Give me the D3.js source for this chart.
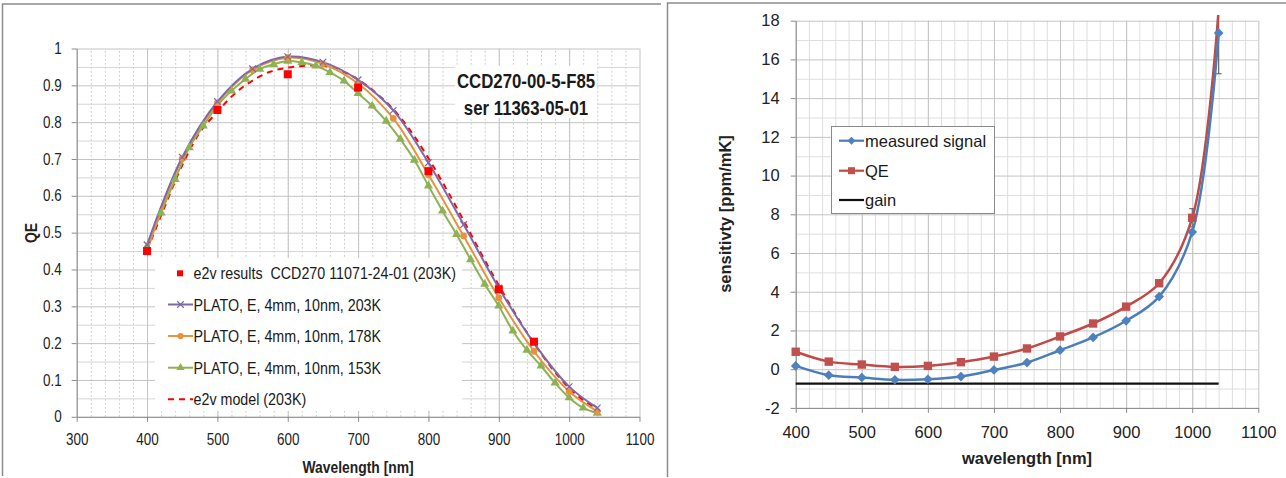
<!DOCTYPE html>
<html>
<head>
<meta charset="utf-8">
<script src="https://cdn.jsdelivr.net/npm/d3@7"></script>
<style>
  body { margin: 0; background: #fff; }
  svg { display: block; }
  svg text { font-family: "Liberation Sans", Arial, sans-serif; white-space: pre; }
</style>
</head>
<body>
<div id="chart"></div>
<script>
/**
 * DATA - left panel (QE vs wavelength)
 * */
const wl50 = [400, 450, 500, 550, 600, 650, 700, 750, 800, 850, 900, 950, 1000, 1040];
const plato203 = [0.467, 0.705, 0.856, 0.945, 0.978, 0.963, 0.915, 0.832, 0.690, 0.522, 0.350, 0.200, 0.082, 0.024];
const plato178 = [0.450, 0.701, 0.852, 0.942, 0.975, 0.958, 0.905, 0.810, 0.657, 0.491, 0.323, 0.178, 0.069, 0.015];
const wl20 = [400, 420, 440, 460, 480, 500, 520, 540, 560, 580, 600, 620, 640, 660, 680, 700, 720,
  740, 760, 780, 800, 820, 840, 860, 880, 900, 920, 940, 960, 980, 1000, 1020, 1040];
const plato153 = [0.462, 0.554, 0.645, 0.731, 0.790, 0.845, 0.885, 0.917, 0.944, 0.957, 0.966, 0.962, 0.953,
  0.935, 0.912, 0.878, 0.844, 0.803, 0.754, 0.697, 0.627, 0.559, 0.495, 0.427, 0.360, 0.301, 0.233,
  0.181, 0.138, 0.092, 0.052, 0.024, 0.010];
const wlResults = [400, 500, 600, 700, 800, 900, 950];
const e2vResults = [0.450, 0.833, 0.930, 0.894, 0.667, 0.346, 0.204];
const wlModel = [400, 425, 450, 475, 500, 525, 550, 575, 600, 625, 650, 675, 700, 725, 750, 775, 800,
  825, 850, 875, 900, 925, 950, 975, 1000, 1020, 1040];
const e2vModel = [0.452, 0.570, 0.683, 0.772, 0.828, 0.878, 0.913, 0.937, 0.948, 0.953, 0.953, 0.940,
  0.916, 0.880, 0.835, 0.775, 0.702, 0.620, 0.533, 0.443, 0.357, 0.275, 0.200, 0.133, 0.078, 0.045, 0.022];
const qeTicks = [0, 0.1, 0.2, 0.3, 0.4, 0.5, 0.6, 0.7, 0.8, 0.9, 1];
const wlTicksLeft = [300, 400, 500, 600, 700, 800, 900, 1000, 1100];
const leftLegend = ["e2v results  CCD270 11071-24-01 (203K)", "PLATO, E, 4mm, 10nm, 203K",
  "PLATO, E, 4mm, 10nm, 178K", "PLATO, E, 4mm, 10nm, 153K", "e2v model (203K)"];
const deviceLabel = ["CCD270-00-5-F85", "ser 11363-05-01"];

/**
 * DATA - right panel (sensitivity vs wavelength)
 * */
const wlSens = [400, 450, 500, 550, 600, 650, 700, 750, 800, 850, 900, 950, 1000, 1040];
const measured = [0.17, -0.31, -0.43, -0.55, -0.52, -0.38, -0.04, 0.34, 0.98, 1.64, 2.50, 3.75, 7.08, 17.36];
const qeSens = [0.90, 0.39, 0.24, 0.12, 0.17, 0.36, 0.65, 1.07, 1.69, 2.36, 3.23, 4.44, 7.82, 18.6];
const wlGain = [400, 1040];
const gain = [-0.75, -0.75];
const errWl = [1000, 1040];
const errVal = [7.82, 17.36];
const errSize = [0.47, 2.1];
const sensTicks = [-2, 0, 2, 4, 6, 8, 10, 12, 14, 16, 18];
const wlTicksRight = [400, 500, 600, 700, 800, 900, 1000, 1100];
const rightLegend = ["measured signal", "QE", "gain"];

/**
 * CONSTANTS
 * */
const width = 1286, height = 478;
const purple = "#7d68a8", orange = "#e8913f", green = "#8db254", red = "#ff0000";
const blue = "#4a7ebb", darkRed = "#be4b48";
const majorGrid = "#c4c4c4", minorGrid = "#dedede", axisCol = "#8a8a8a";
const plain = d => String(d);

const svg = d3.select("#chart").append("svg")
  .attr("width", width).attr("height", height);

// panel frames
svg.append("path")
  .attr("d", "M2.5,476 L2.5,4 L661,4")
  .attr("fill", "none").attr("stroke", "#8c8c8c").attr("stroke-width", 1.5);
svg.append("path")
  .attr("d", "M667.5,477 L667.5,3 L1286,3")
  .attr("fill", "none").attr("stroke", "#8c8c8c").attr("stroke-width", 1.5);

const pairs = (xs, ys) => xs.map((x, i) => [x, ys[i]]);

/**
 * LEFT PANEL
 * */
const L = svg.append("g");
const xL = d3.scaleLinear().domain([300, 1100]).range([76.7, 639.5]);
const yL = d3.scaleLinear().domain([0, 1]).range([416.8, 48.5]);

// minor grid
L.append("g").attr("transform", `translate(0,${yL(0)})`)
  .call(d3.axisBottom(xL).tickValues(d3.range(320, 1100, 20)).tickSize(-(yL(0) - yL(1))).tickFormat(""))
  .call(g => g.select(".domain").remove())
  .call(g => g.selectAll("line").attr("stroke", "#cfcfcf").attr("stroke-dasharray", "2,2"));
L.append("g").attr("transform", `translate(${xL(300)},0)`)
  .call(d3.axisLeft(yL).tickValues(d3.range(0.05, 1, 0.1)).tickSize(-(xL(1100) - xL(300))).tickFormat(""))
  .call(g => g.select(".domain").remove())
  .call(g => g.selectAll("line").attr("stroke", "#d6d6d6"));
// major grid
L.append("g").attr("transform", `translate(0,${yL(0)})`)
  .call(d3.axisBottom(xL).tickValues(wlTicksLeft).tickSize(-(yL(0) - yL(1))).tickFormat(""))
  .call(g => g.select(".domain").remove())
  .call(g => g.selectAll("line").attr("stroke", majorGrid));
L.append("g").attr("transform", `translate(${xL(300)},0)`)
  .call(d3.axisLeft(yL).tickValues(qeTicks).tickSize(-(xL(1100) - xL(300))).tickFormat(""))
  .call(g => g.select(".domain").remove())
  .call(g => g.selectAll("line").attr("stroke", majorGrid));

// axes
L.append("g").attr("transform", `translate(0,${yL(0)})`)
  .call(d3.axisBottom(xL).tickValues(wlTicksLeft).tickFormat(plain).tickSize(5).tickPadding(12).tickSizeOuter(0))
  .call(g => g.selectAll(".domain, line").attr("stroke", axisCol))
  .call(g => g.selectAll("text").attr("font-size", 16).attr("fill", "#222"));
L.append("g").attr("transform", `translate(${xL(300)},0)`)
  .call(d3.axisLeft(yL).tickValues(qeTicks).tickFormat(plain).tickSize(5).tickPadding(10).tickSizeOuter(0))
  .call(g => g.selectAll(".domain, line").attr("stroke", axisCol))
  .call(g => g.selectAll("text").attr("font-size", 16).attr("fill", "#222"));

L.append("text").attr("x", (xL(300) + xL(1100)) / 2).attr("y", 472.5)
  .attr("text-anchor", "middle").attr("font-size", 16.5).attr("font-weight", "bold").attr("fill", "#222")
  .text("Wavelength [nm]");
L.append("text").attr("transform", "translate(37,233) rotate(-90)")
  .attr("text-anchor", "middle").attr("font-size", 16.5).attr("font-weight", "bold").attr("fill", "#222")
  .text("QE");

// device label box
L.append("rect").attr("x", 455).attr("y", 66).attr("width", 142).attr("height", 52).attr("fill", "#fff");
L.selectAll("text.dev").data(deviceLabel).join("text").attr("class", "dev")
  .attr("x", 526).attr("y", (d, i) => 87.5 + i * 27.3)
  .attr("text-anchor", "middle").attr("font-size", 20).attr("font-weight", "bold").attr("fill", "#1a1a1a")
  .text(d => d);

const lineL = d3.line().x(d => xL(d[0])).y(d => yL(d[1])).curve(d3.curveCatmullRom.alpha(0.5));
const sym = (type, size) => d3.symbol().type(type).size(size)();

// lines
L.append("path").attr("d", lineL(pairs(wlModel, e2vModel))).attr("fill", "none")
  .attr("stroke", red).attr("stroke-width", 2).attr("stroke-dasharray", "6,5");
L.append("path").attr("d", lineL(pairs(wl20, plato153))).attr("fill", "none")
  .attr("stroke", green).attr("stroke-width", 2);
L.append("path").attr("d", lineL(pairs(wl50, plato178))).attr("fill", "none")
  .attr("stroke", orange).attr("stroke-width", 2);
L.append("path").attr("d", lineL(pairs(wl50, plato203))).attr("fill", "none")
  .attr("stroke", purple).attr("stroke-width", 2);

// markers
L.selectAll("path.tri").data(pairs(wl20, plato153)).join("path").attr("class", "tri")
  .attr("transform", d => `translate(${xL(d[0])},${yL(d[1])})`)
  .attr("d", sym(d3.symbolTriangle, 36)).attr("fill", green);
L.selectAll("path.circ").data(pairs(wl50, plato178)).join("path").attr("class", "circ")
  .attr("transform", d => `translate(${xL(d[0])},${yL(d[1])})`)
  .attr("d", sym(d3.symbolCircle, 36)).attr("fill", orange);
L.selectAll("path.ex").data(pairs(wl50, plato203)).join("path").attr("class", "ex")
  .attr("transform", d => `translate(${xL(d[0])},${yL(d[1])})`)
  .attr("d", sym(d3.symbolX || d3.symbolCross, 30)).attr("fill", "none")
  .attr("stroke", purple).attr("stroke-width", 1.2);
L.selectAll("rect.res").data(pairs(wlResults, e2vResults)).join("rect").attr("class", "res")
  .attr("x", d => xL(d[0]) - 4).attr("y", d => yL(d[1]) - 4)
  .attr("width", 8).attr("height", 8).attr("fill", red);

// legend
const legL = L.append("g");
legL.append("rect").attr("x", 155).attr("y", 258).attr("width", 307).attr("height", 153).attr("fill", "#fff");
const legRowsL = [273.3, 304.5, 336, 367.7, 399.3];
legL.selectAll("text").data(leftLegend).join("text")
  .attr("x", 193.5).attr("y", (d, i) => legRowsL[i]).attr("dy", "0.36em")
  .attr("font-size", 17).attr("fill", "#1a1a1a").text(d => d);
legL.append("rect").attr("x", 177).attr("y", legRowsL[0] - 3).attr("width", 6).attr("height", 6).attr("fill", red);
[[purple, d3.symbolX || d3.symbolCross], [orange, d3.symbolCircle], [green, d3.symbolTriangle]].forEach((s, i) => {
  const y = legRowsL[i + 1];
  legL.append("line").attr("x1", 168).attr("x2", 193).attr("y1", y).attr("y2", y)
    .attr("stroke", s[0]).attr("stroke-width", 2);
  const m = legL.append("path").attr("transform", `translate(180.5,${y})`).attr("d", sym(s[1], 30));
  if (i === 0) m.attr("fill", "none").attr("stroke", s[0]).attr("stroke-width", 1.2);
  else m.attr("fill", s[0]);
});
legL.append("line").attr("x1", 168).attr("x2", 193).attr("y1", legRowsL[4]).attr("y2", legRowsL[4])
  .attr("stroke", red).attr("stroke-width", 2).attr("stroke-dasharray", "6,5");

// the left figure uses a narrow (Calibri-like) face: squeeze the glyphs horizontally
L.selectAll("text").each(function() {
  const w = this.getComputedTextLength();
  d3.select(this).attr("textLength", w * 0.84).attr("lengthAdjust", "spacingAndGlyphs");
});

/**
 * RIGHT PANEL
 * */
const R = svg.append("g");
const xR = d3.scaleLinear().domain([400, 1100]).range([795.7, 1258.3]);
const yR = d3.scaleLinear().domain([-2, 18]).range([407.9, 20.7]);
const pw = xR(1100) - xR(400), ph = yR(-2) - yR(18);

R.append("g").attr("transform", `translate(0,${yR(-2)})`)
  .call(d3.axisBottom(xR).tickValues(d3.range(420, 1100, 20)).tickSize(-ph).tickFormat(""))
  .call(g => g.select(".domain").remove())
  .call(g => g.selectAll("line").attr("stroke", minorGrid));
R.append("g").attr("transform", `translate(${xR(400)},0)`)
  .call(d3.axisLeft(yR).tickValues(d3.range(-1, 18, 2)).tickSize(-pw).tickFormat(""))
  .call(g => g.select(".domain").remove())
  .call(g => g.selectAll("line").attr("stroke", minorGrid));
R.append("g").attr("transform", `translate(0,${yR(-2)})`)
  .call(d3.axisBottom(xR).tickValues(wlTicksRight).tickSize(-ph).tickFormat(""))
  .call(g => g.select(".domain").remove())
  .call(g => g.selectAll("line").attr("stroke", majorGrid));
R.append("g").attr("transform", `translate(${xR(400)},0)`)
  .call(d3.axisLeft(yR).tickValues(sensTicks).tickSize(-pw).tickFormat(""))
  .call(g => g.select(".domain").remove())
  .call(g => g.selectAll("line").attr("stroke", majorGrid));

R.append("g").attr("transform", `translate(0,${yR(-2)})`)
  .call(d3.axisBottom(xR).tickValues(wlTicksRight).tickFormat(plain).tickSize(5).tickPadding(13).tickSizeOuter(0))
  .call(g => g.selectAll(".domain, line").attr("stroke", axisCol))
  .call(g => g.selectAll("text").attr("font-size", 16.5).attr("fill", "#222"));
R.append("g").attr("transform", `translate(${xR(400)},0)`)
  .call(d3.axisLeft(yR).tickValues(sensTicks).tickFormat(plain).tickSize(5).tickPadding(11).tickSizeOuter(0))
  .call(g => g.selectAll(".domain, line").attr("stroke", axisCol))
  .call(g => g.selectAll("text").attr("font-size", 16.5).attr("fill", "#222"));

R.append("text").attr("x", (xR(400) + xR(1100)) / 2).attr("y", 464)
  .attr("text-anchor", "middle").attr("font-size", 16.5).attr("font-weight", "bold").attr("fill", "#222")
  .text("wavelength [nm]");
R.append("text").attr("transform", "translate(731,214) rotate(-90)")
  .attr("text-anchor", "middle").attr("font-size", 16.5).attr("font-weight", "bold").attr("fill", "#222")
  .text("sensitivty [ppm/mK]");

svg.append("clipPath").attr("id", "clipR").append("rect")
  .attr("x", xR(400) - 10).attr("y", 15).attr("width", pw + 20).attr("height", ph + 20);
const plotR = R.append("g").attr("clip-path", "url(#clipR)");
const lineR = d3.line().x(d => xR(d[0])).y(d => yR(d[1])).curve(d3.curveCatmullRom.alpha(0.5));

plotR.append("path").attr("d", d3.line().x(d => xR(d[0])).y(d => yR(d[1]))(pairs(wlGain, gain)))
  .attr("fill", "none").attr("stroke", "#111").attr("stroke-width", 2.2);

// error bars
errWl.forEach((w, i) => {
  const x = xR(w), y0 = yR(errVal[i] - errSize[i]), y1 = yR(errVal[i] + errSize[i]);
  plotR.append("line").attr("x1", x).attr("x2", x).attr("y1", y0).attr("y2", y1)
    .attr("stroke", "#555").attr("stroke-width", 1);
  [y0, y1].forEach(y => plotR.append("line").attr("x1", x - 3).attr("x2", x + 3).attr("y1", y).attr("y2", y)
    .attr("stroke", "#555").attr("stroke-width", 1));
});

plotR.append("path").attr("d", lineR(pairs(wlSens, qeSens))).attr("fill", "none")
  .attr("stroke", darkRed).attr("stroke-width", 2.5);
plotR.append("path").attr("d", lineR(pairs(wlSens, measured))).attr("fill", "none")
  .attr("stroke", blue).attr("stroke-width", 2.5);

const diamond = d3.symbolDiamond2 || d3.symbolDiamond;
plotR.selectAll("rect.qm").data(pairs(wlSens, qeSens)).join("rect").attr("class", "qm")
  .attr("x", d => xR(d[0]) - 4.2).attr("y", d => yR(d[1]) - 4.2)
  .attr("width", 8.4).attr("height", 8.4).attr("fill", "#c0504d");
plotR.selectAll("path.mm").data(pairs(wlSens, measured)).join("path").attr("class", "mm")
  .attr("transform", d => `translate(${xR(d[0])},${yR(d[1])})`)
  .attr("d", sym(diamond, 60)).attr("fill", "#4f81bd");

// legend
const legR = R.append("g");
legR.append("rect").attr("x", 831.5).attr("y", 126.5).attr("width", 163).attr("height", 87)
  .attr("fill", "#fff").attr("stroke", "#8a8a8a").attr("stroke-width", 1);
const legRowsR = [140.7, 170.7, 200];
legR.selectAll("text").data(rightLegend).join("text")
  .attr("x", 865).attr("y", (d, i) => legRowsR[i]).attr("dy", "0.36em")
  .attr("font-size", 16.5).attr("fill", "#1a1a1a").text(d => d);
[blue, darkRed, "#111"].forEach((c, i) => {
  legR.append("line").attr("x1", 839).attr("x2", 864).attr("y1", legRowsR[i]).attr("y2", legRowsR[i])
    .attr("stroke", c).attr("stroke-width", 2.2);
});
legR.append("path").attr("transform", `translate(851.5,${legRowsR[0]})`).attr("d", sym(diamond, 40)).attr("fill", "#4f81bd");
legR.append("rect").attr("x", 848).attr("y", legRowsR[1] - 3.5).attr("width", 7).attr("height", 7).attr("fill", "#c0504d");
</script>
</body>
</html>
